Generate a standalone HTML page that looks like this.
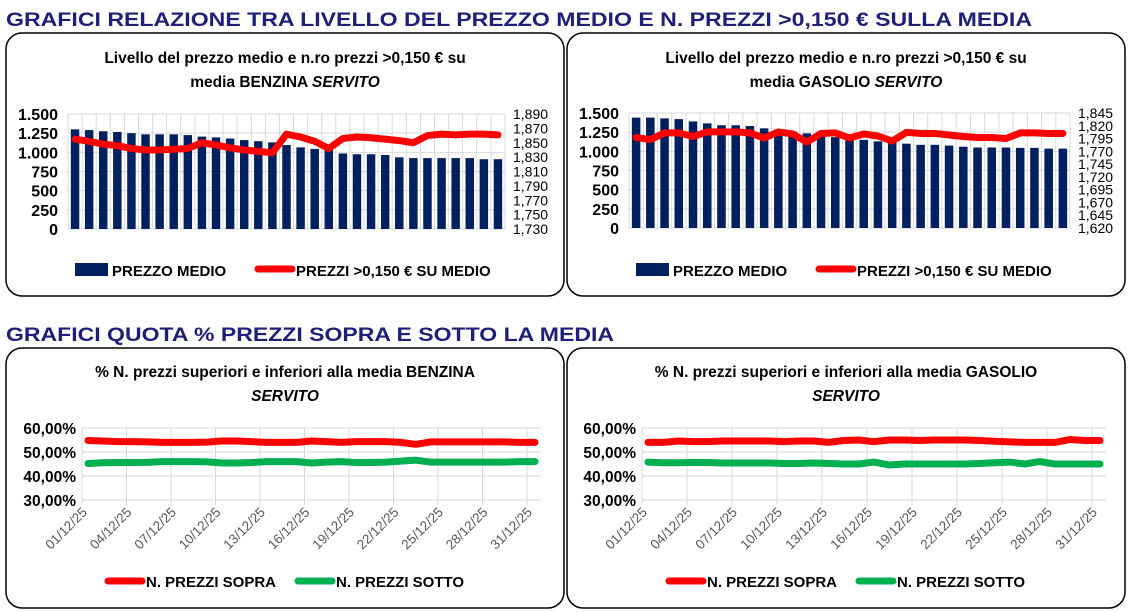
<!DOCTYPE html>
<html><head><meta charset="utf-8"><style>
body{margin:0;background:#fff;width:1131px;height:612px;overflow:hidden}
svg{display:block;font-family:"Liberation Sans",Arial,sans-serif}
</style></head><body>
<svg id="s" width="1131" height="612" xmlns="http://www.w3.org/2000/svg">
<rect width="1131" height="612" fill="#fff"/>
<text x="6" y="26" font-size="19.5" font-weight="bold" fill="#1f1f7a" textLength="1026" lengthAdjust="spacingAndGlyphs">GRAFICI RELAZIONE TRA LIVELLO DEL PREZZO MEDIO E N. PREZZI &gt;0,150 € SULLA MEDIA</text>
<text x="6" y="341" font-size="19.5" font-weight="bold" fill="#1f1f7a" textLength="608" lengthAdjust="spacingAndGlyphs">GRAFICI QUOTA % PREZZI SOPRA E SOTTO LA MEDIA</text>
<rect x="6" y="33" width="558" height="263" rx="16" fill="none" stroke="#000" stroke-width="1.5"/>
<rect x="567" y="33" width="558" height="263" rx="16" fill="none" stroke="#000" stroke-width="1.5"/>
<rect x="6" y="348" width="558" height="260" rx="16" fill="none" stroke="#000" stroke-width="1.5"/>
<rect x="567" y="348" width="558" height="260" rx="16" fill="none" stroke="#000" stroke-width="1.5"/>
<g font-size="15.5" font-weight="bold" text-anchor="middle" fill="#000">
<text x="285" y="63">Livello del prezzo medio e n.ro prezzi &gt;0,150 € su</text>
<text x="285" y="87">media BENZINA <tspan font-style="italic">SERVITO</tspan></text>
<text x="846" y="63">Livello del prezzo medio e n.ro prezzi &gt;0,150 € su</text>
<text x="846" y="87">media GASOLIO <tspan font-style="italic">SERVITO</tspan></text>
<text x="285" y="377">% N. prezzi superiori e inferiori alla media BENZINA</text>
<text x="285" y="401" font-style="italic">SERVITO</text>
<text x="846" y="377">% N. prezzi superiori e inferiori alla media GASOLIO</text>
<text x="846" y="401" font-style="italic">SERVITO</text>
</g>
<g id="c"></g>
</svg>
<script>
var g=document.getElementById('c'),h='';
function T(x,y,t,o){h+='<text x="'+x+'" y="'+y+'" '+(o||'')+'>'+t+'</text>';}
function L(p,c,w){h+='<polyline points="'+p.join(' ')+'" fill="none" stroke="'+c+'" stroke-width="'+w+'" stroke-linejoin="round" stroke-linecap="round"/>';}
function bar(x0,x1,yt,yb,bars,red,rmin,rstep,rn){
 var n=31,cw=(x1-x0)/n;
 for(var i=0;i<=n;i++)h+='<line x1="'+(x0+i*cw)+'" y1="'+yt+'" x2="'+(x0+i*cw)+'" y2="'+yb+'" stroke="#d9d9d9"/>';
 for(var k=0;k<=6;k++){var y=yt+(yb-yt)*k/6;h+='<line x1="'+x0+'" y1="'+y+'" x2="'+x1+'" y2="'+y+'" stroke="#d9d9d9"/>';
  var v=1500-250*k;T(x0-10,y+6,v>=1000?(v/1000).toFixed(3):v,'font-size="16" font-weight="bold" text-anchor="end"');}
 for(var k=0;k<=rn;k++){var y=yt+(yb-yt)*k/rn;T(x1+8,y+5,((rmin+rstep*(rn-k))/1000).toFixed(3).replace('.',','),'font-size="14"');}
 var p=[];
 for(var i=0;i<n;i++){var bx=x0+i*cw+cw*0.2,bh=bars[i]/1500*(yb-yt);
  h+='<rect x="'+bx+'" y="'+(yb-bh)+'" width="'+cw*0.6+'" height="'+bh+'" fill="#002060"/>';
  p.push((x0+(i+.5)*cw)+','+(yb-(red[i]-rmin)/(rstep*rn)*(yb-yt)));}
 L(p,'#ff0000',7);
}
bar(68,505,114,229,[1300,1290,1275,1265,1250,1235,1235,1235,1225,1205,1195,1180,1160,1145,1130,1095,1065,1045,1030,985,975,975,965,935,925,925,925,925,925,910,910],
[1855,1852,1848,1846,1842,1840,1840,1841,1842,1850,1847,1843,1840,1838,1836,1862,1858,1852,1842,1856,1858,1857,1855,1853,1850,1860,1862,1861,1862,1862,1861],1730,20,8);
bar(629,1070,113,228,[1440,1440,1430,1420,1390,1365,1340,1340,1330,1300,1285,1260,1235,1210,1185,1170,1150,1130,1110,1100,1085,1085,1075,1060,1050,1050,1050,1045,1045,1035,1035],
[1797,1793,1806,1806,1799,1808,1808,1808,1806,1796,1808,1804,1788,1805,1806,1796,1804,1800,1790,1807,1805,1805,1802,1799,1797,1797,1795,1806,1806,1805,1805],1620,25,9);
[[75,112,258,296],[636,673,819,857]].forEach(function(a){
 h+='<rect x="'+a[0]+'" y="263" width="33" height="13" fill="#002060"/>';
 T(a[1],276,'PREZZO MEDIO','font-size="15" font-weight="bold"');
 h+='<line x1="'+a[2]+'" y1="269" x2="'+(a[2]+34)+'" y2="269" stroke="#ff0000" stroke-width="7" stroke-linecap="round"/>';
 T(a[3],276,'PREZZI &gt;0,150 € SU MEDIO','font-size="15" font-weight="bold"');
});
function pct(x0,x1,px0,px1,sopra,sotto){
 var yt=428,yb=500,gw=(x1-x0)/10;
 for(var k=0;k<=3;k++){var y=yt+(yb-yt)*k/3;h+='<line x1="'+x0+'" y1="'+y+'" x2="'+(x1+14)+'" y2="'+y+'" stroke="#d9d9d9"/>';
  T(x0-6,y+6,(60-10*k)+',00%','font-size="15.5" font-weight="bold" text-anchor="end"');}
 for(var i=0;i<=10;i++){var x=x0+i*gw;h+='<line x1="'+x+'" y1="'+yt+'" x2="'+x+'" y2="'+(yb+5)+'" stroke="#d9d9d9"/>';
  var d=('0'+(1+3*i)).slice(-2)+'/12/25';T(x+6,yb+13,d,'font-size="13.5" fill="#595959" text-anchor="end" transform="rotate(-45 '+(x+6)+' '+(yb+13)+')"');}
 function pts(a){return a.map(function(v,i){return (px0+i*(px1-px0)/30)+','+(yb-(v-30)/30*(yb-yt));});}
 L(pts(sopra),'#ff0000',7);L(pts(sotto),'#00b050',7);
}
pct(82,527,88,535,[54.8,54.6,54.3,54.3,54.2,54.0,54.0,54.0,54.1,54.6,54.6,54.3,54.0,54.0,54.0,54.6,54.3,54.0,54.3,54.3,54.3,54.0,53.2,54.2,54.2,54.2,54.2,54.2,54.2,54.0,54.0],
[45.2,45.5,45.6,45.6,45.7,46.0,46.0,46.0,45.9,45.4,45.4,45.6,46.0,46.0,46.0,45.4,45.8,46.0,45.6,45.6,45.8,46.2,46.6,45.8,45.8,45.8,45.8,45.8,45.8,46.0,46.0]);
pct(642,1092,648,1100,[54.0,54.0,54.6,54.3,54.4,54.6,54.6,54.6,54.6,54.3,54.6,54.6,54.0,54.8,55.0,54.3,55.0,55.0,54.8,55.0,55.0,55.0,54.8,54.5,54.2,54.0,54.0,54.0,55.2,54.8,54.8],
[45.8,45.5,45.5,45.7,45.6,45.4,45.4,45.4,45.4,45.2,45.2,45.4,45.2,45.0,45.0,45.8,44.6,45.0,45.0,45.0,45.0,45.0,45.2,45.5,45.8,45.0,46.0,45.0,45.0,45.0,45.0]);
[[108,298],[669,859]].forEach(function(a){
 h+='<line x1="'+a[0]+'" y1="581" x2="'+(a[0]+34)+'" y2="581" stroke="#ff0000" stroke-width="7" stroke-linecap="round"/>';
 T(a[0]+38,587,'N. PREZZI SOPRA','font-size="15" font-weight="bold"');
 h+='<line x1="'+a[1]+'" y1="581" x2="'+(a[1]+34)+'" y2="581" stroke="#00b050" stroke-width="7" stroke-linecap="round"/>';
 T(a[1]+38,587,'N. PREZZI SOTTO','font-size="15" font-weight="bold"');
});
g.innerHTML=h;
</script>
</body></html>
